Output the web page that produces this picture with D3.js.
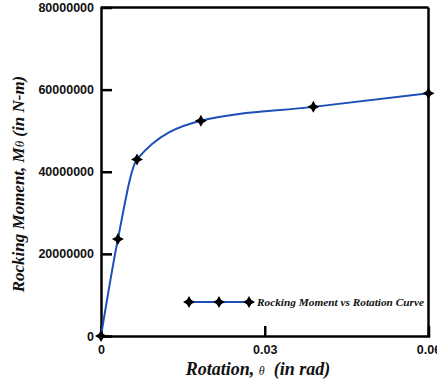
<!DOCTYPE html>
<meta charset="utf-8">
<style>
    body { margin: 0; background: #fff; }
    svg { display: block; }
    .axis path, .axis line { stroke: #000; stroke-width: 2.5; }
    .axis text { font: bold 12.5px "Liberation Sans", Arial, sans-serif; fill: #111; }
    .frame { stroke: #000; stroke-width: 2.5; }
    .curve { fill: none; stroke: #1c4fb8; stroke-width: 2; }
    .title { font: bold italic 17px "Liberation Serif", "Times New Roman", serif; fill: #111; }
    .title .sym { font-weight: normal; }
    .legend text { font: bold italic 11.3px "Liberation Serif", "Times New Roman", serif; fill: #111; }
</style>
<body>
<script src="https://d3js.org/d3.v7.min.js"></script>
<script>

    var rotation = [0, 0.0031, 0.0066, 0.0183, 0.0389, 0.06];
    var moment = [0, 23600000, 43000000, 52400000, 55800000, 59100000];
    var xTicks = [0, 0.03, 0.06];
    var yTicks = [0, 20000000, 40000000, 60000000, 80000000];
    var seriesName = "Rocking Moment vs Rotation Curve";

    var W = 437, H = 385;
    var x = d3.scaleLinear().domain([0, 0.06]).range([101, 428.5]);
    var y = d3.scaleLinear().domain([0, 80000000]).range([336, 7.5]);

    var svg = d3.select("body").append("svg")
        .attr("width", W)
        .attr("height", H);

    // 4-pointed star marker
    var star4 = {
        draw: function(ctx, size) {
            var r = Math.sqrt(size) * 0.75, w = r * 0.36;
            ctx.moveTo(0, -r);
            ctx.lineTo(w, -w);
            ctx.lineTo(r, 0);
            ctx.lineTo(w, w);
            ctx.lineTo(0, r);
            ctx.lineTo(-w, w);
            ctx.lineTo(-r, 0);
            ctx.lineTo(-w, -w);
            ctx.closePath();
        }
    };
    var marker = d3.symbol().type(star4).size(64);

    var data = rotation.map(function(r, i) { return {x: r, y: moment[i]}; });

    // frame top and right
    svg.append("line").attr("class", "frame")
        .attr("x1", x(0)).attr("x2", x(0.06)).attr("y1", y(80000000)).attr("y2", y(80000000));
    svg.append("line").attr("class", "frame")
        .attr("x1", x(0.06)).attr("x2", x(0.06)).attr("y1", y(80000000)).attr("y2", y(0));

    svg.append("g")
        .attr("class", "axis")
        .attr("transform", "translate(0," + y(0) + ")")
        .call(d3.axisBottom(x).tickValues(xTicks).tickSizeInner(-10).tickSizeOuter(0).tickPadding(9)
            .tickFormat(function(d) { return d === 0 ? "0" : d3.format(".2f")(d); }));

    svg.append("g")
        .attr("class", "axis")
        .attr("transform", "translate(" + x(0) + ",0)")
        .call(d3.axisLeft(y).tickValues(yTicks).tickSizeInner(-11).tickSizeOuter(0).tickPadding(7)
            .tickFormat(d3.format("d")));

    svg.selectAll(".axis .domain").attr("stroke-linecap", "square");

    var line = d3.line()
        .x(function(d) { return x(d.x); })
        .y(function(d) { return y(d.y); })
        .curve(d3.curveMonotoneX);

    svg.append("path").datum(data).attr("class", "curve").attr("d", line);

    svg.selectAll(".pt").data(data).enter().append("path")
        .attr("class", "pt")
        .attr("transform", function(d) { return "translate(" + x(d.x) + "," + y(d.y) + ")"; })
        .attr("d", marker)
        .attr("fill", "#000");

    // legend
    var lg = svg.append("g").attr("class", "legend").attr("transform", "translate(0,302)");
    var lx = [189, 219, 249];
    lg.append("line").attr("x1", lx[0]).attr("x2", lx[2]).attr("y1", 0).attr("y2", 0)
        .attr("stroke", "#1c4fb8").attr("stroke-width", 2);
    lg.selectAll("path").data(lx).enter().append("path")
        .attr("transform", function(d) { return "translate(" + d + ",0)"; })
        .attr("d", marker).attr("fill", "#000");
    lg.append("text").attr("x", 257).attr("y", 3.5).text(seriesName);

    // axis titles
    var xt = svg.append("text").attr("class", "title")
        .attr("x", 258).attr("y", 375).attr("text-anchor", "middle")
        .style("font-size", "18px").attr("xml:space", "preserve");
    xt.append("tspan").text("Rotation, ");
    xt.append("tspan").attr("class", "sym").attr("font-size", "12px").text("\u03b8");
    xt.append("tspan").text("  (in rad)");

    var yt = svg.append("text").attr("class", "title")
        .attr("transform", "translate(24,184) rotate(-90)")
        .attr("text-anchor", "middle");
    yt.append("tspan").text("Rocking Moment, M");
    yt.append("tspan").attr("class", "sym").attr("font-size", "13px").text("\u03b8");
    yt.append("tspan").text(" (in N-m)");

</script>
